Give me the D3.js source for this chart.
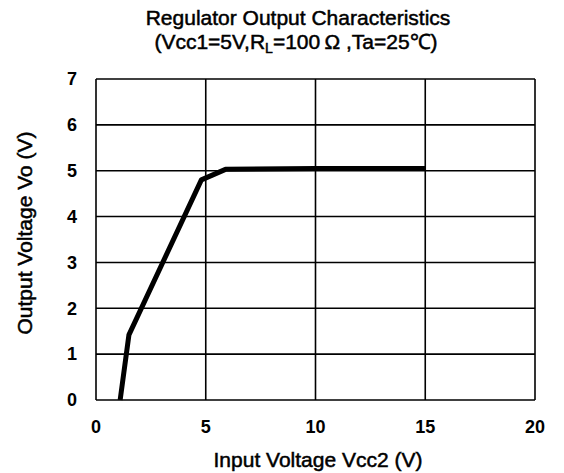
<!DOCTYPE html>
<html>
<head>
<meta charset="utf-8">
<script src="https://cdn.jsdelivr.net/npm/d3@7"></script>
<style>
  body { margin: 0; background: #fff; }
  text { font-family: "Liberation Sans", Arial, sans-serif; fill: #000; }
  .lab { stroke: #000; stroke-width: 0.5px; }
</style>
</head>
<body>
<div id="chart"></div>
<script>
// data
let vin = [1.1, 1.5, 4.8, 5.9, 10, 15]
let vout = [0, 1.42, 4.8, 5.03, 5.05, 5.05]
let xTicks = [0, 5, 10, 15, 20]
let yTicks = [0, 1, 2, 3, 4, 5, 6, 7]

let width = 564
let height = 473
let margin = { left: 96, right: 29, top: 79, bottom: 73 }

let svg = d3.select('#chart')
  .append('svg')
  .attr('width', width)
  .attr('height', height)

let x = d3.scaleLinear().domain([0, 20]).range([margin.left, width - margin.right])
let y = d3.scaleLinear().domain([0, 7]).range([height - margin.bottom, margin.top])

// 网格
svg.append('g')
  .selectAll('line')
  .data(xTicks)
  .enter()
  .append('line')
  .attr('x1', d => x(d)).attr('x2', d => x(d))
  .attr('y1', y(0)).attr('y2', y(7))
  .attr('stroke', '#000')
  .attr('stroke-width', 1.6)
svg.append('g')
  .selectAll('line')
  .data(yTicks)
  .enter()
  .append('line')
  .attr('x1', x(0)).attr('x2', x(20))
  .attr('y1', d => y(d)).attr('y2', d => y(d))
  .attr('stroke', '#000')
  .attr('stroke-width', 1.6)

// 刻度文字
svg.append('g')
  .selectAll('text')
  .data(xTicks)
  .enter()
  .append('text')
  .attr('x', d => x(d))
  .attr('y', y(0) + 33)
  .attr('text-anchor', 'middle')
  .attr('font-size', '18px')
  .attr('font-weight', 'bold')
  .text(d => d)
svg.append('g')
  .selectAll('text')
  .data(yTicks)
  .enter()
  .append('text')
  .attr('x', x(0) - 24)
  .attr('y', d => y(d))
  .attr('dy', '0.35em')
  .attr('text-anchor', 'middle')
  .attr('font-size', '18px')
  .attr('font-weight', 'bold')
  .text(d => d)

// 曲线
let line = d3.line()
  .x((d, i) => x(vin[i]))
  .y(d => y(d))
svg.append('path')
  .datum(vout)
  .attr('d', line)
  .attr('fill', 'none')
  .attr('stroke', '#000')
  .attr('stroke-width', 5)
  .attr('stroke-linejoin', 'round')

// 标题
svg.append('text')
  .attr('class', 'lab')
  .attr('x', 298).attr('y', 25)
  .attr('text-anchor', 'middle')
  .attr('font-size', '21px')
  .text('Regulator Output Characteristics')
let t2 = svg.append('text')
  .attr('class', 'lab')
  .attr('x', 296).attr('y', 49)
  .attr('text-anchor', 'middle')
  .attr('font-size', '21px')
t2.append('tspan').text('(Vcc1=5V,R')
t2.append('tspan').attr('dy', 4).attr('font-size', '14px').text('L')
t2.append('tspan').attr('dy', -4).text('=100\u2009Ω ,Ta=25℃)')

// 轴标题
svg.append('text')
  .attr('class', 'lab')
  .attr('x', 318).attr('y', 467)
  .attr('text-anchor', 'middle')
  .attr('font-size', '21px')
  .text('Input Voltage Vcc2 (V)')
svg.append('text')
  .attr('class', 'lab')
  .attr('transform', 'translate(32,233) rotate(-90)')
  .attr('text-anchor', 'middle')
  .attr('font-size', '21px')
  .text('Output Voltage Vo (V)')
</script>
</body>
</html>
